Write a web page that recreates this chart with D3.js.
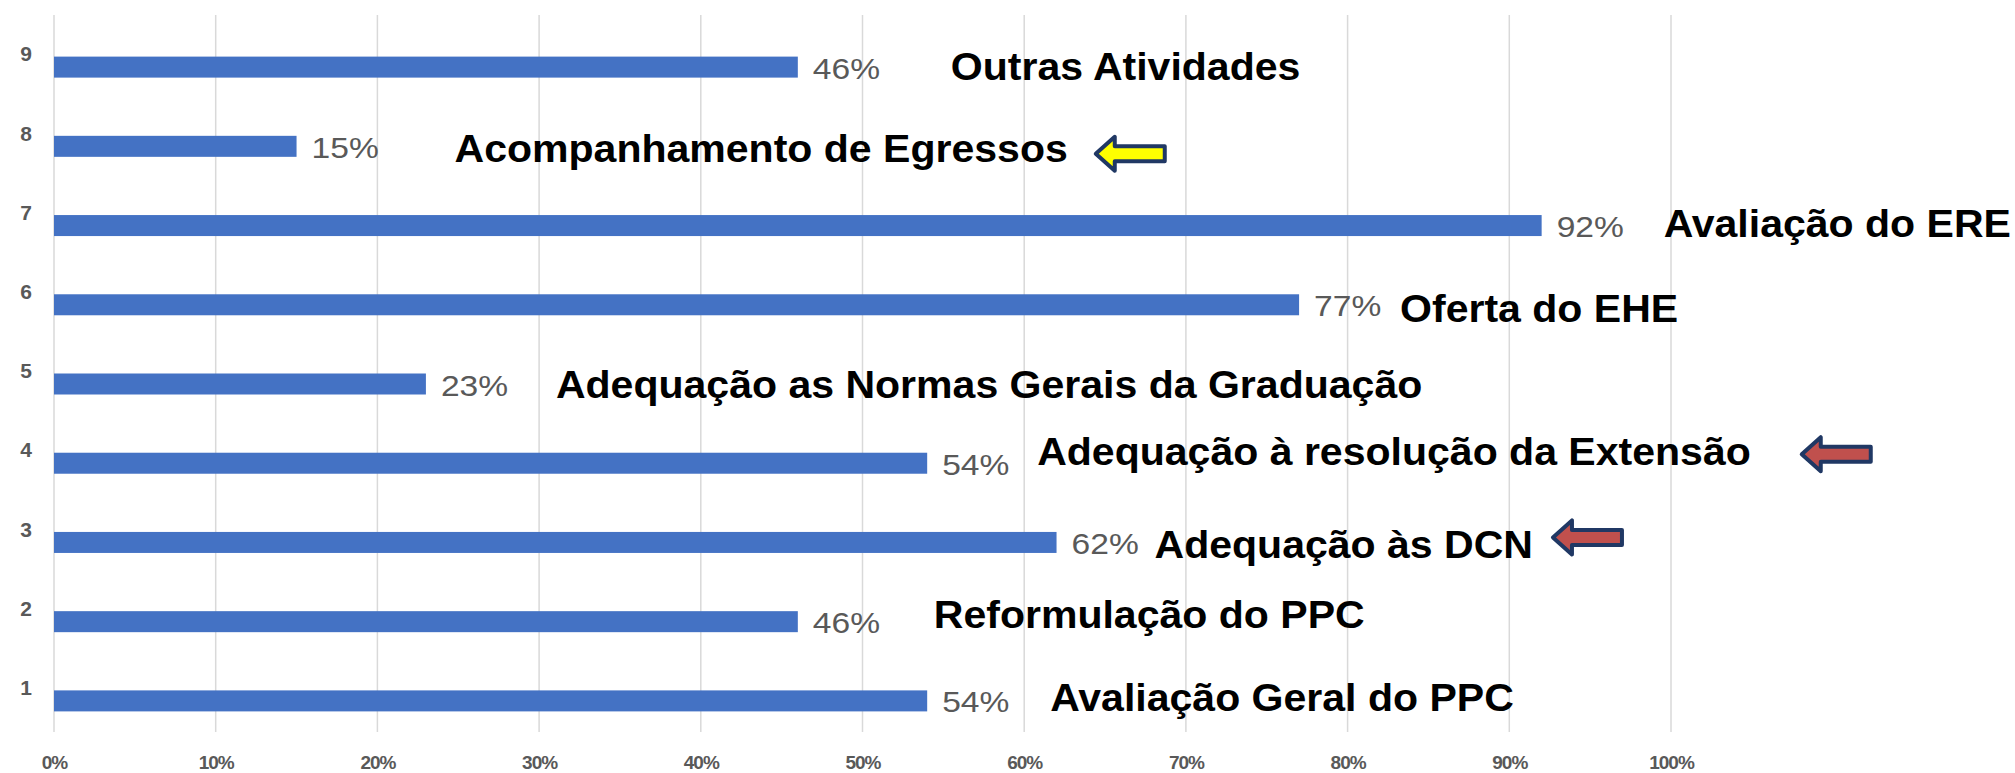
<!DOCTYPE html>
<html>
<head>
<meta charset="utf-8">
<script src="https://cdn.jsdelivr.net/npm/d3@7"></script>
<style>
  body { margin: 0; background: #fff; }
  text { font-family: "Liberation Sans", Arial, sans-serif; }
</style>
</head>
<body>
<div id="chart"></div>
<script>
// data, bottom row first (as the category axis reads 1..9)
var categories = ["1", "2", "3", "4", "5", "6", "7", "8", "9"];
var values = [0.54, 0.46, 0.62, 0.54, 0.23, 0.77, 0.92, 0.15, 0.46];
var activityNames = [
  "Avaliação Geral do PPC",
  "Reformulação do PPC",
  "Adequação às DCN",
  "Adequação à resolução da Extensão",
  "Adequação as Normas Gerais da Graduação",
  "Oferta do EHE",
  "Avaliação do ERE",
  "Acompanhamento de Egressos",
  "Outras Atividades"
];
var xTicks = [0, 0.1, 0.2, 0.3, 0.4, 0.5, 0.6, 0.7, 0.8, 0.9, 1];

// arrows drawn next to some activities
var arrowCategories = ["8", "4", "3"];
var arrowFills = ["#ffff00", "#c0504d", "#c0504d"];

// hand placed text boxes in the original slide (px from bar end / bar centre)
var nameDx = [123, 136, 98, 110, 130, 101, 122, 158, 153];
var nameDy = [-3, -7.5, 2, -11.5, 0, 4, -2.5, 2, -0.5];
var arrowGap = [26, 49, 18];
var arrowDy = [7.5, -9, -5];

var svgWidth = 2015;
var svgHeight = 773;

var svg = d3.select("#chart").append("svg")
  .attr("width", svgWidth)
  .attr("height", svgHeight);

var x = d3.scaleLinear().domain([0, 1]).range([54, 1671]);
var y = d3.scaleBand()
  .domain(categories.slice().reverse())
  .range([15, 728]);

var gridBottom = 732;
var barHeight = 21;
function barCenter(c) { return y(c) + y.bandwidth() / 2 + 2 + barHeight / 2; }

// gridlines
svg.append("g").attr("id", "grid")
  .selectAll("line")
  .data(xTicks)
  .enter()
  .append("line")
  .attr("x1", function(d) { return x(d); })
  .attr("x2", function(d) { return x(d); })
  .attr("y1", 15)
  .attr("y2", gridBottom)
  .attr("stroke", "#d9d9d9")
  .attr("stroke-width", 1.5);

// x axis labels
var xAxis = svg.append("g")
  .attr("transform", "translate(0," + gridBottom + ")")
  .call(d3.axisBottom(x).tickValues(xTicks).tickFormat(d3.format(".0%")).tickSize(0).tickPadding(24));
xAxis.select(".domain").remove();
xAxis.selectAll("text")
  .style("font-family", "'Liberation Sans', Arial, sans-serif")
  .style("font-size", "19px")
  .style("font-weight", "bold")
  .style("letter-spacing", "-1px")
  .attr("fill", "#595959");

// category axis
var yAxis = svg.append("g")
  .attr("transform", "translate(54,0)")
  .call(d3.axisLeft(y).tickSize(0).tickPadding(22));
yAxis.select(".domain").remove();
yAxis.selectAll("text")
  .style("font-family", "'Liberation Sans', Arial, sans-serif")
  .style("font-size", "21px")
  .style("font-weight", "bold")
  .attr("fill", "#595959");

var rows = categories.map(function(c, i) {
  return { cat: c, value: values[i], name: activityNames[i], dx: nameDx[i], dy: nameDy[i] };
});

// bars
svg.append("g").attr("id", "bars")
  .selectAll("rect")
  .data(rows)
  .enter()
  .append("rect")
  .attr("x", x(0))
  .attr("y", function(d) { return barCenter(d.cat) - barHeight / 2; })
  .attr("width", function(d) { return x(d.value) - x(0); })
  .attr("height", barHeight)
  .attr("fill", "#4472c4");

// value labels
svg.append("g").attr("id", "values")
  .selectAll("text")
  .data(rows)
  .enter()
  .append("text")
  .attr("transform", function(d) {
    return "translate(" + (x(d.value) + 15) + "," + (barCenter(d.cat) + 11.5) + ") scale(1.12,1)";
  })
  .style("font-size", "30px")
  .attr("fill", "#595959")
  .text(function(d) { return d3.format(".0%")(d.value); });

// activity names
var nameStretch = 1.08;
var names = svg.append("g").attr("id", "names")
  .selectAll("text")
  .data(rows)
  .enter()
  .append("text")
  .attr("id", function(d) { return "name" + d.cat; })
  .attr("transform", function(d) {
    return "translate(" + (x(d.value) + d.dx) + "," + (barCenter(d.cat) + d.dy + 13.6) + ") scale(" + nameStretch + ",1)";
  })
  .style("font-size", "38px")
  .style("font-weight", "bold")
  .attr("fill", "#000")
  .text(function(d) { return d.name; });

// arrows
var arrowPath = "M2,0 L21,-17 L21,-7.5 L71,-7.5 L71,7.5 L21,7.5 L21,17 Z";
arrowCategories.forEach(function(c, i) {
  var row = rows[categories.indexOf(c)];
  var label = document.getElementById("name" + c);
  var labelEnd = x(row.value) + row.dx + label.getComputedTextLength() * nameStretch;
  svg.append("path")
    .attr("d", arrowPath)
    .attr("transform", "translate(" + (labelEnd + arrowGap[i]) + "," + (barCenter(c) + arrowDy[i]) + ")")
    .attr("fill", arrowFills[i])
    .attr("stroke", "#203864")
    .attr("stroke-width", 4)
    .attr("stroke-linejoin", "round");
});
</script>
</body>
</html>
